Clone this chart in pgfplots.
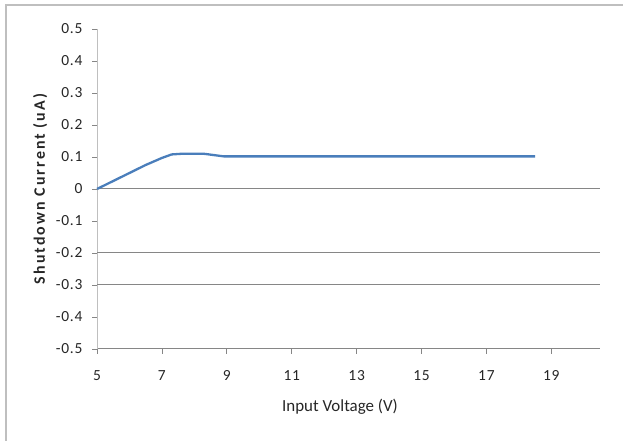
\documentclass[border=0pt]{standalone}
\usepackage{pgfplots}
\pgfplotsset{compat=1.18}
\usepackage{fontspec}
\setmainfont{Carlito}
\newfontfamily\lsfont[LetterSpace=5]{Carlito}
\newfontfamily\lsbold[LetterSpace=13]{Carlito Bold}
\definecolor{excelblue}{HTML}{4A7EBB}
\definecolor{gridgray}{HTML}{868686}
\definecolor{axgray}{HTML}{BFBFBF}
\begin{document}
\begin{tikzpicture}[x=1bp,y=1bp]
\path[use as bounding box] (0,0) rectangle (623,441);
\draw[axgray, line width=1.5bp] (6,-5) -- (6,436) -- (630,436);
\begin{axis}[
  at={(97bp,92bp)}, anchor=south west,
  scale only axis, width=503bp, height=320bp,
  xmin=5, xmax=20.5, ymin=-0.5, ymax=0.5,
  axis x line*=bottom, axis y line*=left,
  axis line style={-},
  x axis line style={gridgray, line width=1bp},
  y axis line style={axgray, line width=1bp},
  xtick={5,7,9,11,13,15,17,19},
  ytick={-0.5,-0.4,-0.3,-0.2,-0.1,0,0.1,0.2,0.3,0.4,0.5},
  yticklabels={-0.5,-0.4,-0.3,-0.2,-0.1,0,0.1,0.2,0.3,0.4,0.5},
  tick style={gridgray, line width=0.8bp},
  major tick length=5bp,
  xtick pos=bottom, ytick pos=left,
  tick align=outside,
  /pgf/number format/assume math mode=true,
  tick label style={font=\lsfont\fontsize{15.5}{17}\selectfont, text=black!85},
  xticklabel style={yshift=-13bp},
  yticklabel style={xshift=-6bp},
  xlabel={\fontsize{17}{19}\selectfont Input Voltage (V)},
  ylabel={\lsbold\fontsize{16}{18}\selectfont Shutdown Current (uA)},
  label style={text=black!85},
  xlabel style={at={(rel axis cs:0.483,-0.18)}, anchor=center},
  ylabel style={at={(rel axis cs:-0.113,0.5)}, anchor=center, rotate=0},
  clip=false,
]
\draw[gridgray, line width=1bp] (axis cs:5,0) -- (axis cs:20.5,0);
\draw[gridgray, line width=1bp] (axis cs:5,-0.2) -- (axis cs:20.5,-0.2);
\draw[gridgray, line width=1bp] (axis cs:5,-0.3) -- (axis cs:20.5,-0.3);
\addplot[excelblue, line width=2.3bp, line join=round] coordinates {
(5,0) (5.5,0.025) (6,0.05) (6.5,0.075) (7,0.097) (7.3,0.108) (7.6,0.11) (8.3,0.11) (8.6,0.106) (8.9,0.102) (10,0.102) (12,0.102) (14,0.102) (16,0.102) (18.5,0.102)
};
\end{axis}
\end{tikzpicture}
\end{document}
